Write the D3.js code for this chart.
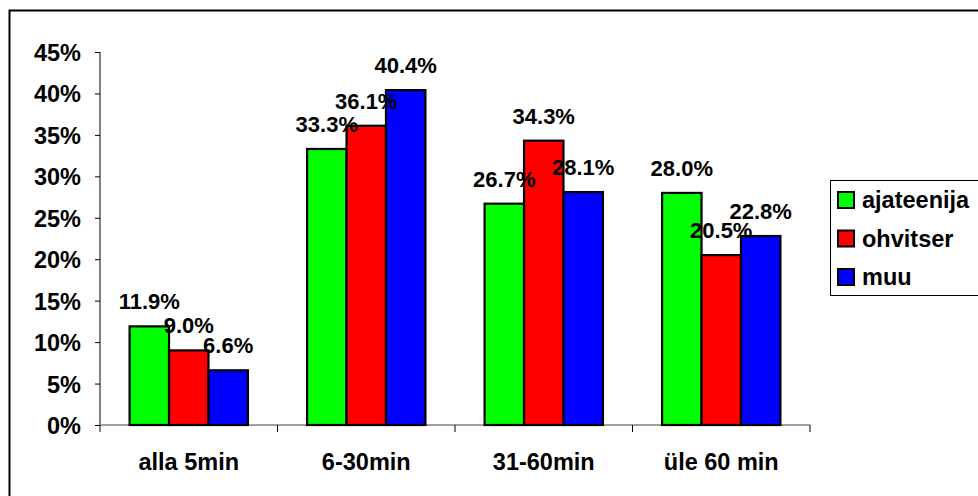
<!DOCTYPE html>
<html><head><meta charset="utf-8">
<script src="https://cdn.jsdelivr.net/npm/d3@7"></script>
<style>body{margin:0;background:#fff}svg{display:block}text{font-family:"Liberation Sans",Arial,sans-serif;font-weight:bold}</style>
</head><body><svg id="c" width="978" height="496"></svg>
<script>
const categories = ["alla 5min","6-30min","31-60min","üle 60 min"];
const seriesNames = ["ajateenija","ohvitser","muu"];
const ajateenija = [11.9,33.3,26.7,28.0];
const ohvitser = [9.0,36.1,34.3,20.5];
const muu = [6.6,40.4,28.1,22.8];
const yTicks = [0,5,10,15,20,25,30,35,40,45];
const colors = ["#00ff00","#ff0000","#0000ff"];
const series = [ajateenija, ohvitser, muu];

const svg = d3.select("#c");
svg.append("rect").attr("x",9.5).attr("y",10.5).attr("width",1000).attr("height",1000)
  .attr("fill","none").attr("stroke","#000").attr("stroke-width",2);

const x = d3.scaleBand().domain(categories).range([100,810]).paddingInner(0).paddingOuter(0);
const y = d3.scaleLinear().domain([0,45]).range([425,52]);
const bw = x.bandwidth()/4.5;

const yAxis = svg.append("g").attr("transform","translate(100,0)")
  .call(d3.axisLeft(y).tickValues(yTicks).tickFormat(d=>d+"%").tickSize(5).tickPadding(14));
yAxis.select(".domain").attr("stroke","#000").attr("d","M0,52V425");
yAxis.selectAll("text").style("font-size","23.5px").attr("fill","#000").attr("dy","0.36em");

const xAxis = svg.append("g").attr("transform","translate(0,425)")
  .call(d3.axisBottom(x).tickSize(0).tickPadding(28));
xAxis.select(".domain").attr("stroke","#808080").attr("stroke-width",1.5).attr("d","M100,0H810");
xAxis.selectAll("text").style("font-size","23.5px").attr("fill","#000");
const bounds = [0,1,2,3,4].map(i=>100+i*x.step());
svg.append("g").selectAll("line").data(bounds).join("line")
  .attr("x1",d=>d).attr("x2",d=>d).attr("y1",425).attr("y2",432).attr("stroke","#000");

series.forEach((vals,si)=>{
  const g = svg.append("g");
  g.selectAll("rect").data(vals).join("rect")
    .attr("x",(d,i)=>x(categories[i])+bw*0.75+si*bw)
    .attr("y",d=>y(d)).attr("width",bw).attr("height",d=>425-y(d))
    .attr("fill",colors[si]).attr("stroke","#000").attr("stroke-width",2.2);
});
series.forEach((vals,si)=>{
  svg.append("g").selectAll("text").data(vals).join("text")
    .attr("x",(d,i)=>x(categories[i])+bw*0.75+si*bw+bw/2)
    .attr("y",d=>y(d)-17).attr("text-anchor","middle")
    .style("font-size","22px").text(d=>d.toFixed(1)+"%");
});

const lg = svg.append("g");
lg.append("rect").attr("x",830.5).attr("y",180.5).attr("width",160).attr("height",115)
  .attr("fill","#fff").attr("stroke","#000").attr("stroke-width",1);
seriesNames.forEach((n,i)=>{
  const cy = 200+i*38.5;
  lg.append("rect").attr("x",838).attr("y",cy-8).attr("width",16).attr("height",16)
    .attr("fill",colors[i]).attr("stroke","#000").attr("stroke-width",2);
  lg.append("text").attr("x",862).attr("y",cy+8).style("font-size","23.5px").text(n);
});
</script></body></html>
